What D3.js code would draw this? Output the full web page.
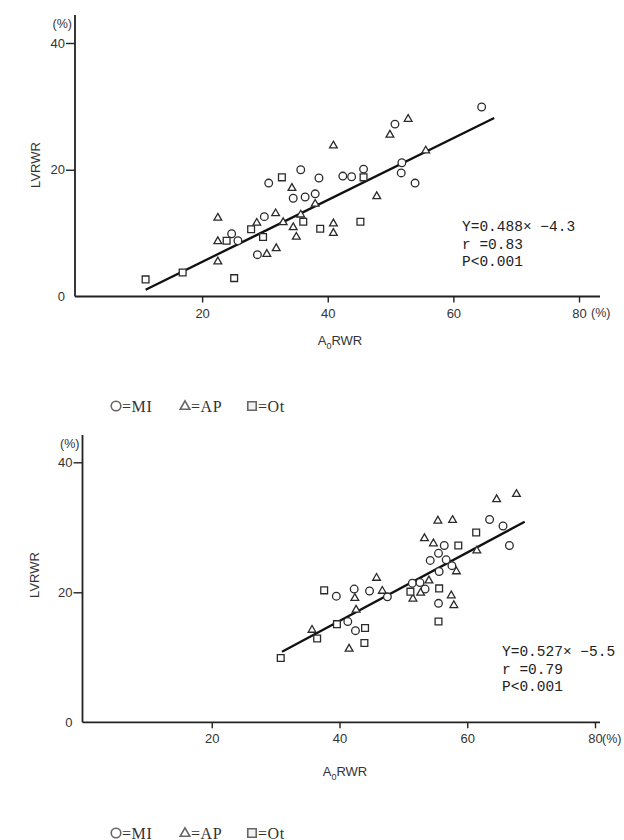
<!DOCTYPE html>
<html>
<head>
<meta charset="utf-8">
<script src="https://cdn.jsdelivr.net/npm/d3@7"></script>
<style>
  html, body { margin: 0; padding: 0; background: #fff; }
  svg { display: block; }
  .tick text { font-family: "Liberation Sans Narrow", "Liberation Sans", sans-serif; font-size: 13px; fill: #333; }
  .axlab { font-family: "Liberation Sans", Arial, sans-serif; font-size: 13px; fill: #333; }
  .note { font-family: "Liberation Mono", "DejaVu Sans Mono", monospace; font-size: 14.5px; fill: #222; }
  .legend { font-family: "Liberation Serif", "Times New Roman", serif; font-size: 16px; fill: #333; letter-spacing: 0.6px; }
</style>
</head>
<body>
<script>
// ---- data: [AoRWR %, LVRWR %] per patient, grouped by diagnosis ----
const topMI = [[30.6,17.9],[35.7,20.0],[38.6,18.7],[42.4,19.0],[43.8,18.9],[45.7,20.1],
  [34.5,15.5],[36.4,15.7],[38.0,16.2],[29.9,12.6],[24.7,9.9],[25.7,8.8],[28.8,6.6],
  [64.5,29.9],[50.7,27.2],[51.8,21.1],[51.7,19.5],[53.9,17.9]];
const topAP = [[34.3,17.1],[31.7,13.1],[28.7,11.6],[22.5,12.4],[22.5,8.7],[22.5,5.5],
  [30.3,6.7],[31.8,7.6],[32.9,11.7],[34.5,10.9],[35.0,9.4],[35.7,12.9],[38.0,14.6],
  [40.9,11.5],[40.9,10.0],[40.9,23.8],[52.8,28.0],[49.9,25.5],[55.6,23.0],[47.8,15.8]];
const topOt = [[11.0,2.7],[16.9,3.8],[25.1,2.9],[23.9,8.8],[27.8,10.6],[29.7,9.4],
  [32.7,18.8],[36.1,11.8],[38.8,10.7],[45.7,18.8],[45.2,11.8]];

const botMI = [[39.5,19.4],[42.3,20.5],[41.3,15.5],[42.5,14.1],[44.7,20.2],[47.5,19.3],
  [51.4,21.4],[52.6,21.5],[53.4,20.5],[55.6,23.2],[55.5,18.3],[54.2,24.9],[55.5,26.0],
  [56.4,27.2],[56.7,25.0],[57.6,24.1],[63.5,31.2],[65.6,30.2],[66.6,27.2]];
const botAP = [[35.7,14.2],[41.5,11.3],[42.6,17.3],[42.4,19.1],[45.8,22.2],[46.7,20.2],
  [51.5,19.0],[52.7,19.9],[54.0,21.8],[53.3,28.3],[54.7,27.5],[55.4,31.0],[57.7,31.1],
  [58.3,23.2],[57.5,19.5],[57.9,18.0],[61.5,26.4],[64.6,34.3],[67.7,35.1]];
const botOt = [[30.8,9.9],[36.5,12.9],[39.6,15.1],[37.6,20.3],[44.0,14.5],[43.9,12.2],
  [51.1,20.1],[55.6,20.6],[55.5,15.5],[58.6,27.2],[61.4,29.2]];

// regression: [slope, intercept], fitted x-range
const topFit = [0.488, -4.3];
const topFitRange = [11, 66.5];
const botFit = [0.527, -5.5];
const botFitRange = [31, 69];

const topNote = ["Y=0.488× −4.3", "r =0.83", "P<0.001"];
const botNote = ["Y=0.527× −5.5", "r =0.79", "P<0.001"];

const xTicks = [20, 40, 60, 80];
const yTicks = [0, 20, 40];
const xTitle = "RWR";
const yTitle = "LVRWR";
const legendItems = [["circle", "=MI"], ["triangle", "=AP"], ["square", "=Ot"]];

// ---- drawing ----
const svg = d3.select("body").append("svg").attr("width", 624).attr("height", 840);
svg.append("rect").attr("width", 624).attr("height", 840).attr("fill", "#fff");

const shapes = { circle: d3.symbolCircle, triangle: d3.symbolTriangle, square: d3.symbolSquare };
const sizes = { circle: 46, triangle: 26, square: 46 };

function panel(cfg) {
  const g = svg.append("g");
  const x = d3.scaleLinear().domain([0, 80]).range(cfg.xr);
  const y = d3.scaleLinear().domain([0, 40]).range(cfg.yr);
  const x0 = cfg.axisX;

  // axis lines
  g.append("line").attr("x1", x0).attr("x2", x0).attr("y1", cfg.yTop).attr("y2", y(0))
    .attr("stroke", "#222").attr("stroke-width", 1.8);
  g.append("line").attr("x1", x0).attr("x2", cfg.xEnd).attr("y1", y(0)).attr("y2", y(0))
    .attr("stroke", "#222").attr("stroke-width", 1.8);

  const ax = g.append("g").attr("transform", `translate(0,${y(0)})`)
    .call(d3.axisBottom(x).tickValues(xTicks).tickSize(6).tickPadding(4).tickFormat(d3.format("d")));
  ax.select(".domain").remove();
  ax.selectAll(".tick line").attr("stroke", "#222").attr("stroke-width", 1.4);
  ax.selectAll(".tick text").attr("dy", "0.85em");
  ax.append("text").attr("x", x(80) + cfg.pctDx).attr("y", 10).attr("dy", "0.85em")
    .attr("class", "axlab").style("font-size", "12.5px").attr("text-anchor", "start").text("(%)");

  const ay = g.append("g").attr("transform", `translate(${x0},0)`)
    .call(d3.axisLeft(y).tickValues(yTicks).tickSize(9).tickPadding(1).tickFormat(d3.format("d")));
  ay.select(".domain").remove();
  ay.selectAll(".tick line").attr("stroke", "#222").attr("stroke-width", 1.4)
    .filter(d => d === 0).remove();
  ay.append("text").attr("x", -3).attr("y", cfg.yTop + 13).attr("class", "axlab")
    .style("font-size", "12.5px").attr("text-anchor", "end").text("(%)");

  // axis titles
  const xt = g.append("text").attr("class", "axlab").attr("x", cfg.xTitleX).attr("y", cfg.xTitleY)
    .attr("text-anchor", "middle");
  xt.append("tspan").text("A");
  xt.append("tspan").attr("dy", 4).style("font-size", "9px").text("0");
  xt.append("tspan").attr("dy", -4).text(xTitle);

  g.append("text").attr("class", "axlab").attr("text-anchor", "middle")
    .attr("transform", `translate(${cfg.yTitleX},${cfg.yTitleY}) rotate(-90)`).text(yTitle);

  // regression line
  const line = d3.line().x(d => x(d)).y(d => y(cfg.fit[0] * d + cfg.fit[1]));
  g.append("path").attr("d", line(cfg.fitRange)).attr("stroke", "#111")
    .attr("stroke-width", 2.3).attr("fill", "none");

  // points
  [["circle", cfg.mi], ["triangle", cfg.ap], ["square", cfg.ot]].forEach(([k, data]) => {
    g.selectAll(null).data(data).enter().append("path")
      .attr("d", d3.symbol(shapes[k], sizes[k]))
      .attr("transform", d => `translate(${x(d[0])},${y(d[1])})`)
      .attr("fill", "#fff").attr("stroke", "#2a2a2a").attr("stroke-width", 1.3);
  });

  // regression statistics
  g.selectAll(null).data(cfg.note).enter().append("text").attr("class", "note")
    .attr("x", cfg.noteX).attr("y", (d, i) => cfg.noteY + i * 17.5).text(d => d);

  // legend
  const lg = g.append("g").attr("transform", `translate(${cfg.legX},${cfg.legY})`);
  const offs = [0, 69, 136];
  legendItems.forEach(([k, label], i) => {
    lg.append("path").attr("d", d3.symbol(shapes[k], k === "triangle" ? 40 : 72))
      .attr("transform", `translate(${offs[i]},${k === "triangle" ? 0.5 : 0})`)
      .attr("fill", k === "square" ? "#f2f2f2" : "#fff").attr("stroke", "#666").attr("stroke-width", 1.6);
    lg.append("text").attr("class", "legend").attr("x", offs[i] + 6).attr("y", 5.5).text(label);
  });
}

panel({
  xr: [76.5, 579], yr: [296.5, 43], axisX: 75, yTop: 15, xEnd: 600, pctDx: 12,
  xTitleX: 340, xTitleY: 345, yTitleX: 40, yTitleY: 165,
  fit: topFit, fitRange: topFitRange, mi: topMI, ap: topAP, ot: topOt,
  note: topNote, noteX: 462, noteY: 231,
  legX: 116, legY: 406
});

panel({
  xr: [84, 595], yr: [722.3, 462.3], axisX: 82.5, yTop: 435, xEnd: 600, pctDx: 7,
  xTitleX: 345, xTitleY: 776, yTitleX: 39, yTitleY: 575,
  fit: botFit, fitRange: botFitRange, mi: botMI, ap: botAP, ot: botOt,
  note: botNote, noteX: 502, noteY: 656,
  legX: 116, legY: 833
});
</script>
</body>
</html>
